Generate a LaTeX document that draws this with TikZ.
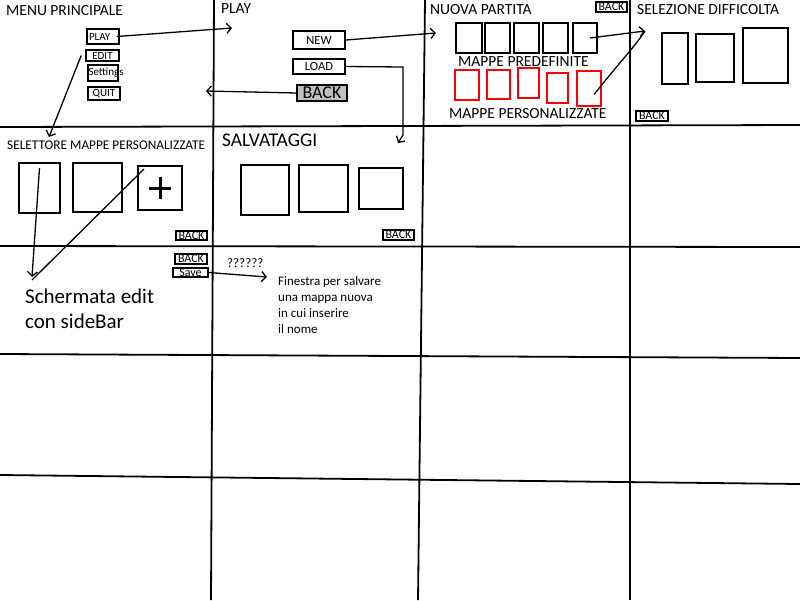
\documentclass[tikz,border=0pt]{standalone}
\usepackage{fontspec}
\setmainfont{Carlito}
\usetikzlibrary{arrows.meta}

\newcommand{\fsz}[1]{\fontsize{#1}{#1}\selectfont}

\tikzset{
  grid/.style={line width=1.8pt},
  box/.style={draw, line width=1.8pt, inner sep=0pt},
  redbox/.style={box, draw=red},
  btn/.style={draw, line width=1.6pt, inner sep=0pt, font=\fsz{11}},
  backbtn/.style={draw, line width=1.6pt, inner sep=0pt, font=\fsz{12}},
  title/.style={anchor=base west, inner sep=0pt, font=\fsz{15.5}},
  link/.style={line width=1.3pt, -{Straight Barb[length=4.5pt,width=10pt]}},
}

\begin{document}
\begin{tikzpicture}[x=1pt,y=-1pt]
\useasboundingbox[fill=white] (0,0) rectangle (800,600);

% griglia delle schermate
\draw[grid] (214,0) -- (211,600);
\draw[grid] (425,0) -- (418,600);
\draw[grid] (630,0) -- (630,600);
\draw[grid] (0,127) -- (800,125);
\draw[grid] (0,246) -- (800,247);
\draw[grid] (0,354) -- (800,358);
\draw[grid] (0,475) -- (800,484);

% menu principale
\node[title] (tmenu) at (6,15) {MENU PRINCIPALE};
\node[btn, minimum width=32, minimum height=15] (play) at (103,36.5) {\makebox[28pt][l]{PLAY}};
\node[btn, minimum width=33, minimum height=11] (edit) at (102.5,55.5) {EDIT};
\node[btn, minimum width=30, minimum height=16] (settings) at (103,73) {\makebox[29pt][l]{Settings}};
\node[btn, minimum width=32, minimum height=13] (quit) at (104,93.5) {QUIT};

% play
\node[title] (tplay) at (221,13) {PLAY};
\node[btn, font=\fsz{12.5}, minimum width=52, minimum height=18] (new) at (319,40) {NEW};
\node[btn, font=\fsz{12.5}, minimum width=52, minimum height=15] (load) at (319,66.5) {LOAD};
\node[btn, fill=gray!50, font=\fsz{18}, minimum width=50, minimum height=16] (backplay) at (322,93) {BACK};

% nuova partita
\node[title] (tnuova) at (430,14) {NUOVA PARTITA};
\node[backbtn, minimum width=31, minimum height=10] (backnuova) at (611.5,7) {BACK};
\node[box, minimum width=26, minimum height=30] (pre1) at (469,38) {};
\node[box, minimum width=25, minimum height=30] (pre2) at (497.5,38) {};
\node[box, minimum width=25, minimum height=30] (pre3) at (526.5,38) {};
\node[box, minimum width=25, minimum height=30] (pre4) at (555.5,38) {};
\node[box, minimum width=24, minimum height=30] (pre5) at (585,38) {};
\node[title] (tpre) at (458,66) {MAPPE PREDEFINITE};
\node[redbox, minimum width=24, minimum height=30] (per1) at (467,85) {};
\node[redbox, minimum width=23, minimum height=29] (per2) at (498.5,84.5) {};
\node[redbox, minimum width=21, minimum height=30] (per3) at (528.5,83) {};
\node[redbox, minimum width=21, minimum height=30] (per4) at (557.5,88) {};
\node[redbox, minimum width=24, minimum height=35] (per5) at (589,88.5) {};
\node[title] (tper) at (449,118) {MAPPE PERSONALIZZATE};

% selezione difficolta
\node[title] (tdiff) at (637,14) {SELEZIONE DIFFICOLTA};
\node[box, minimum width=26, minimum height=51] (d1) at (675,58.5) {};
\node[box, minimum width=38, minimum height=48] (d2) at (715,58) {};
\node[box, minimum width=45, minimum height=55] (d3) at (765.5,55.5) {};
\node[backbtn, minimum width=32, minimum height=10] (backdiff) at (652,116) {BACK};

% selettore mappe personalizzate
\node[title, font=\fsz{13.3}] (tsel) at (7,149) {SELETTORE MAPPE PERSONALIZZATE};
\node[box, minimum width=41, minimum height=50] (s1) at (39.5,188) {};
\node[box, minimum width=49, minimum height=49] (s2) at (97.5,187.5) {};
\node[box, minimum width=44, minimum height=44] (s3) at (160,188) {};
\draw[line width=3pt] ([xshift=-11]s3.center) -- ([xshift=11]s3.center);
\draw[line width=3pt] ([yshift=-11]s3.center) -- ([yshift=11]s3.center);
\node[backbtn, minimum width=31, minimum height=9] (backsel) at (191.5,235.5) {BACK};

% salvataggi
\node[title, font=\fsz{19.4}] (tsalv) at (222,146) {SALVATAGGI};
\node[box, minimum width=48, minimum height=50] (v1) at (265,190) {};
\node[box, minimum width=49, minimum height=47] (v2) at (323.5,188.5) {};
\node[box, minimum width=44, minimum height=41] (v3) at (381,188.5) {};
\node[backbtn, minimum width=31, minimum height=10] (backsalv) at (398.5,235) {BACK};

% schermata edit
\node[backbtn, minimum width=32, minimum height=10] (backedit) at (191,259) {BACK};
\node[backbtn, minimum width=35, minimum height=9] (save) at (190.5,272.5) {Save};
\node[anchor=north west, inner sep=0pt, align=left, font=\fontsize{21}{25}\selectfont] (tedit) at (25,289) {Schermata edit\\con sideBar};
\node[anchor=base west, inner sep=0pt, font=\fsz{13}] (tq) at (227,267) {??????};
\node[anchor=north west, inner sep=0pt, align=left, font=\fontsize{13}{16}\selectfont] (tfin) at (278,276)
  {Finestra per salvare\\una mappa nuova\\in cui inserire\\il nome};

% collegamenti
\coordinate (toplay) at (232,28);
\coordinate (tosel) at (49,137);
\coordinate (tomenu) at (206,91);
\coordinate (tonuova) at (436,33);
\coordinate (toload) at (398,143);
\coordinate (todiff) at (645,31);
\coordinate (toedit) at (32,277);
\coordinate (tofin) at (267,277);

\draw[link] ([xshift=-3]play.east) -- (toplay);
\draw[link] ([xshift=-4]edit.west) -- (tosel);
\draw[link] (backplay.west) -- (tomenu);
\draw[link] (new.east) -- (tonuova);
\draw[link] (load.east) -- (403,67) -- (403,135) -- (toload);
\draw[link] ([xshift=5]pre5.center) -- (todiff);
\draw[line width=1.3pt] ([xshift=5,yshift=-6]per5.center) .. controls (620,62) and (636,45) .. (todiff);
\draw[link] ([yshift=20]s1.center) -- (toedit);
\draw[line width=1.3pt] ([xshift=-16,yshift=19]s3.center) -- ([yshift=-3]toedit);
\draw[link] (save.east) -- (tofin);
\end{tikzpicture}
\end{document}
